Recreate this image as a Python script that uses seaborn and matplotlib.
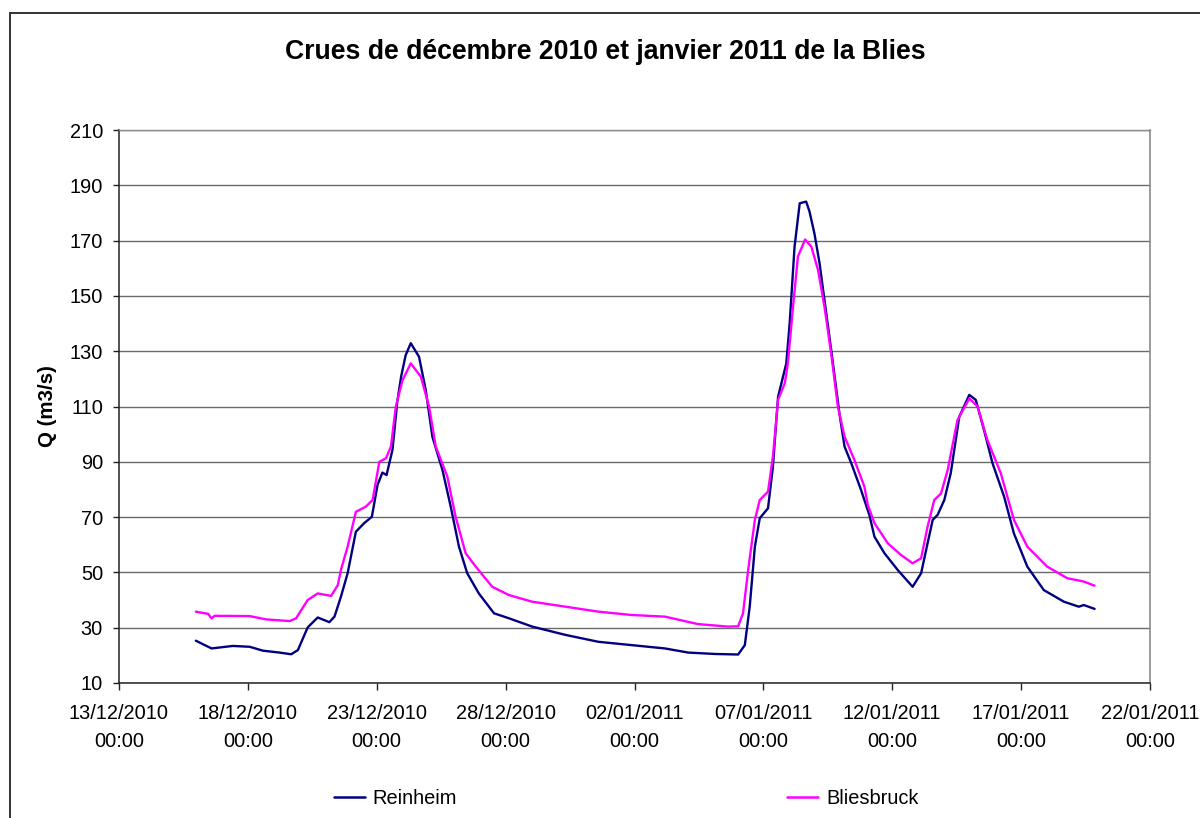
import matplotlib
matplotlib.use("Agg")
import matplotlib.pyplot as plt
import matplotlib.dates as mdates
from matplotlib.lines import Line2D
from matplotlib.patches import Rectangle
import numpy as np
import pandas as pd
import seaborn as sns

# Discharge at the two gauging stations of the Blies
# (time in days after 13/12/2010 00:00, discharge in m3/s)
reinheim_days = [2.98, 3.59, 4.41, 5.07, 5.58, 6.23, 6.68, 6.94, 7.32, 7.71,
                 8.16, 8.36, 8.61, 8.87, 9.19, 9.51, 9.81, 10.03, 10.22, 10.38,
                 10.61, 10.80, 10.95, 11.12, 11.32, 11.64, 11.90, 12.16, 12.55, 12.87,
                 13.19, 13.51, 13.96, 14.55, 15.13, 16.03, 17.32, 18.60, 19.89, 21.18,
                 22.09, 23.12, 24.02, 24.28, 24.47, 24.67, 24.86, 25.18, 25.37, 25.57,
                 25.89, 26.02, 26.21, 26.41, 26.66, 26.79, 26.98, 27.18, 27.44, 27.70,
                 27.95, 28.15, 28.41, 28.79, 29.12, 29.31, 29.70, 30.21, 30.79, 31.12,
                 31.37, 31.57, 31.76, 32.02, 32.27, 32.60, 32.99, 33.24, 33.56, 33.89,
                 34.34, 34.72, 35.24, 35.88, 36.66, 37.24, 37.43, 37.85]
reinheim_q = [25.3, 22.5, 23.4, 23.1, 21.7, 21.0, 20.4, 21.9, 30.1, 33.7,
              32.0, 34.0, 41.2, 49.7, 64.7, 67.8, 70.1, 81.6, 86.1, 85.2,
              94.3, 112.0, 121.0, 128.5, 132.9, 128.0, 116.0, 99.0, 87.0, 73.8,
              59.3, 49.7, 42.4, 35.2, 33.4, 30.4, 27.4, 24.9, 23.7, 22.5,
              21.0, 20.5, 20.3, 23.7, 37.6, 59.3, 69.6, 73.2, 88.2, 113.5,
              125.6, 140.1, 167.8, 183.5, 184.1, 180.5, 172.6, 161.8, 143.7, 125.6,
              107.5, 95.5, 89.5, 79.8, 70.5, 62.9, 56.9, 50.9, 44.8, 49.7,
              60.5, 69.0, 70.8, 76.2, 85.9, 106.3, 114.2, 112.4, 101.5, 89.5,
              77.4, 64.1, 52.1, 43.6, 39.4, 37.6, 38.2, 36.8]

bliesbruck_days = [2.98, 3.46, 3.59, 3.71, 5.07, 5.71, 6.62, 6.87, 7.32, 7.71,
                   8.23, 8.49, 8.61, 8.87, 9.19, 9.58, 9.84, 10.10, 10.36, 10.55,
                   10.74, 11.00, 11.32, 11.71, 12.03, 12.29, 12.74, 13.06, 13.45, 13.84,
                   14.48, 15.13, 16.03, 17.32, 18.60, 19.89, 21.18, 22.47, 23.63, 24.02,
                   24.21, 24.41, 24.67, 24.86, 25.18, 25.37, 25.57, 25.83, 25.95, 26.15,
                   26.34, 26.62, 26.86, 27.12, 27.37, 27.63, 27.89, 28.15, 28.53, 28.92,
                   29.05, 29.31, 29.83, 30.34, 30.79, 31.12, 31.37, 31.63, 31.89, 32.15,
                   32.53, 32.99, 33.31, 33.69, 34.21, 34.72, 35.24, 36.01, 36.79, 37.43,
                   37.85]
bliesbruck_q = [35.8, 35.0, 33.4, 34.3, 34.2, 33.0, 32.4, 33.4, 40.0, 42.4,
                41.5, 45.4, 50.9, 59.3, 71.9, 73.8, 76.2, 90.0, 91.3, 95.5,
                110.0, 119.5, 125.6, 120.8, 110.0, 95.5, 84.6, 70.1, 56.9, 52.1,
                44.8, 41.8, 39.4, 37.6, 35.8, 34.6, 34.0, 31.3, 30.4, 30.5,
                35.2, 50.9, 69.0, 76.2, 79.2, 91.9, 112.4, 118.4, 125.6, 146.1,
                164.2, 170.4, 167.8, 159.4, 146.1, 129.2, 110.0, 99.1, 90.7, 81.0,
                74.4, 67.8, 60.5, 56.3, 53.3, 55.1, 66.5, 76.2, 78.5, 87.0,
                105.1, 112.9, 110.0, 97.9, 85.9, 69.0, 59.3, 52.1, 47.9, 46.7,
                45.2]

stations = ["Reinheim", "Bliesbruck"]
colors = {"Reinheim": "#000080", "Bliesbruck": "#FF00FF"}
title = "Crues de décembre 2010 et janvier 2011 de la Blies"
y_label = "Q (m3/s)"
y_ticks = list(range(10, 211, 20))

t0 = pd.Timestamp("2010-12-13 00:00")
t_end = pd.Timestamp("2011-01-22 00:00")

frames = []
for name, days, q in [("Reinheim", reinheim_days, reinheim_q),
                      ("Bliesbruck", bliesbruck_days, bliesbruck_q)]:
    frames.append(pd.DataFrame({
        "date": t0 + pd.to_timedelta(np.array(days), unit="D"),
        "Q": q,
        "station": name,
    }))
df = pd.concat(frames, ignore_index=True)

sns.set_theme(style="white")
plt.rcParams["font.family"] = ["Liberation Sans", "DejaVu Sans"]
plt.rcParams["text.color"] = "black"

fig = plt.figure(figsize=(12, 8.18), dpi=100)
ax = fig.add_axes([119 / 1200, 1 - 683 / 818, (1150 - 119) / 1200, (683 - 130) / 818])

sns.lineplot(data=df, x="date", y="Q", hue="station", palette=colors,
             hue_order=stations, estimator=None, sort=False, linewidth=1.7,
             legend=False, ax=ax)

ax.set_xlim(t0, t_end)
ax.set_ylim(10, 210)
ax.set_yticks(y_ticks)
ax.set_xticks(pd.date_range(t0, t_end, freq="5D"))
ax.xaxis.set_major_formatter(mdates.DateFormatter("%d/%m/%Y\n%H:%M"))

ax.grid(axis="y", color="#6a6a6a", linewidth=1.0)
ax.grid(axis="x", visible=False)
ax.set_axisbelow(True)

for side in ["left", "bottom"]:
    ax.spines[side].set_color("#222222")
    ax.spines[side].set_linewidth(1.1)
ax.spines["right"].set_color("#8a8a8a")
ax.spines["right"].set_linewidth(1.2)
ax.spines["top"].set_color("#8a8a8a")
ax.spines["top"].set_linewidth(1.0)

ax.tick_params(axis="x", which="major", direction="out", length=5, width=1,
               color="#222222", pad=10, labelsize=14.4, labelcolor="black",
               bottom=True)
ax.tick_params(axis="y", which="major", direction="out", length=4.5, width=1,
               color="#222222", pad=7, labelsize=14.4, labelcolor="black",
               left=True)
for lbl in ax.get_xticklabels():
    lbl.set_linespacing(1.6)
    lbl.set_horizontalalignment("center")

ax.set_xlabel("")
ax.set_ylabel(y_label, fontsize=14.8, fontweight="bold", color="black")
ax.yaxis.set_label_coords(-0.060, 0.5)

fig.text(605 / 1200, 1 - 52 / 818, title, ha="center", va="center",
         fontsize=19.2, fontweight="bold", color="black")

handles = [Line2D([0], [0], color=colors[s], linewidth=1.8) for s in stations]
fig.legend(handles, stations, loc="center", bbox_to_anchor=(626 / 1200, 1 - 798 / 818),
           ncol=2, frameon=False, fontsize=14.4, handlelength=1.55,
           handletextpad=0.4, columnspacing=16.5, labelcolor="black")

# Chart frame around the figure
fig.patches.append(Rectangle((10 / 1200, -0.1), 1.5, 1 - 13 / 818 + 0.1,
                             transform=fig.transFigure, fill=False,
                             edgecolor="#333333", linewidth=1.4))

fig.savefig("out.png", dpi=100, facecolor="white")
